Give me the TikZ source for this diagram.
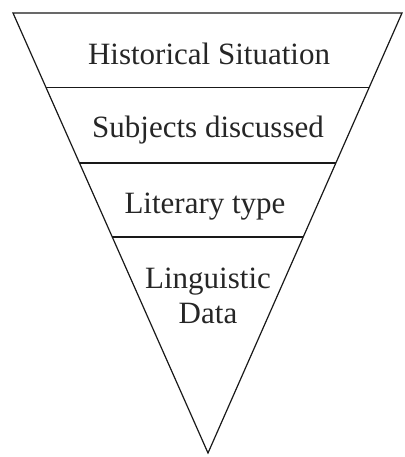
\documentclass[tikz,border=0pt]{standalone}
\usepackage{fontspec}
\setmainfont{Liberation Serif}
\usepackage{tikz}
\usetikzlibrary{calc}

\tikzset{
  label/.style={anchor=base, inner sep=0, font=\fontsize{31}{35}\selectfont, text=black!85},
  edge/.style={line width=1.2, draw=black!90}
}

\begin{document}
\begin{tikzpicture}[x=1pt, y=-1pt]

\useasboundingbox (0,0) rectangle (404,457);

\coordinate (tl) at ( 13, 13);
\coordinate (tr) at (402, 13);
\coordinate (ap) at (208,453);

% the funnel
\draw[edge, line join=miter] (tl)--(tr)--(ap)--cycle;

\foreach \t in {0.170, 0.341, 0.509} {
	\draw[edge] ($(tl)!\t!(ap)$)--($(tr)!\t!(ap)$);
}

\node[label] (hist) at (209, 65) {Historical Situation};
\node[label] (subj) at (208,138) {Subjects discussed};
\node[label] (lit)  at (205,213) {Literary type};
\node[label] (ling) at (208,288) {Linguistic};
\node[label] (data) at (208,323) {Data};

\end{tikzpicture}
\end{document}
